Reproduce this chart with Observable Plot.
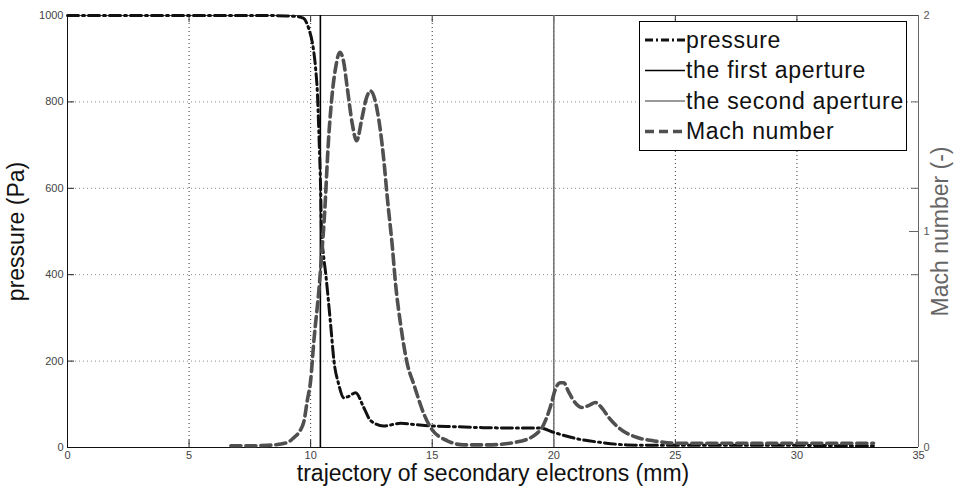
<!DOCTYPE html>
<html><head><meta charset="utf-8">
<script src="https://cdn.jsdelivr.net/npm/d3@7"></script>
<script src="https://cdn.jsdelivr.net/npm/@observablehq/plot@0.6"></script>
<style>
body{margin:0;background:#fff;}
#wrap{position:relative;width:959px;height:493px;font-family:"Liberation Sans",Arial,sans-serif;}
g[aria-label="axis-title"] text{letter-spacing:0.7px;}
#legend{position:absolute;left:639px;top:21px;}
#legend text{letter-spacing:0.7px;}
</style></head><body><div id="wrap"></div>
<script>
// ---- data ----
const pressureX = [0, 2, 4, 6, 8, 9, 9.4, 9.7, 9.92, 10.08, 10.2, 10.28, 10.34, 10.41, 10.45, 10.52, 10.62, 10.82, 10.96, 11.15, 11.36, 11.55, 11.85, 12.18, 12.47, 13.0, 13.7, 14.3, 14.93, 16, 17.1, 18.5, 19.45, 20.0, 20.97, 21.9, 23.0, 24, 26, 28, 30, 32, 33.2];
const pressureY = [1000, 1000, 1000, 1000, 1000, 999, 998, 994, 970, 934, 880, 818, 726, 600, 495, 450, 402, 286, 200, 147, 115, 118, 127, 93, 62, 50, 56, 53, 50, 48, 46, 45, 45, 35, 20, 12, 6, 5, 5, 5, 5, 4, 4];
const machX = [6.72, 7.5, 8.22, 9.04, 9.31, 9.55, 9.73, 9.86, 10.0, 10.13, 10.34, 10.48, 10.55, 10.75, 10.89, 11.03, 11.2, 11.35, 11.5, 11.71, 11.89, 12.12, 12.3, 12.47, 12.74, 13.01, 13.15, 13.36, 13.49, 13.7, 13.97, 14.25, 14.66, 14.93, 15.62, 16.3, 17.3, 18.36, 19.18, 19.59, 19.93, 20.0, 20.27, 20.41, 20.6, 20.82, 21.17, 21.45, 21.71, 22.0, 22.26, 22.74, 23.43, 24.1, 25, 27, 29, 31, 33.15];
const machY = [0.008, 0.008, 0.01, 0.023, 0.046, 0.075, 0.124, 0.216, 0.31, 0.49, 0.73, 0.93, 1.04, 1.45, 1.64, 1.76, 1.83, 1.79, 1.67, 1.50, 1.42, 1.53, 1.62, 1.65, 1.56, 1.33, 1.16, 0.93, 0.76, 0.57, 0.39, 0.29, 0.155, 0.093, 0.031, 0.012, 0.012, 0.023, 0.054, 0.108, 0.216, 0.247, 0.30, 0.30, 0.26, 0.216, 0.185, 0.195, 0.208, 0.18, 0.139, 0.085, 0.046, 0.031, 0.02, 0.02, 0.02, 0.02, 0.02];
const firstAperture = [10.4];
const secondAperture = [20];
const xTicks = [0, 5, 10, 15, 20, 25, 30, 35];
const yTicks = [0, 200, 400, 600, 800, 1000];
const machTicks = [0, 1, 2];
const xGrid = [5, 10, 15, 20, 25, 30];
const yGrid = [200, 400, 600, 800];
const legendLabels = ["pressure", "the first aperture", "the second aperture", "Mach number"];
const xLabel = "trajectory of secondary electrons (mm)";
const yLabel = "pressure (Pa)";
const y2Label = "Mach number (-)";

// ---- layout ----
const W = 959, H = 493, mL = 67, mR = 41, mT = 15, mB = 46;
const fW = W - mL - mR, fH = H - mT - mB, T = 7;
const machScale = 500; // Mach 2 <-> 1000 Pa
const FONT = "Liberation Sans, Arial, sans-serif";
const PDASH = "11,4,2,4", MDASH = "10,5";

const pressure = pressureX.map((x, i) => ({x, y: pressureY[i]}));
const mach = machX.map((x, i) => ({x, m: machY[i]}));

const chart = Plot.plot({
  width: W, height: H,
  marginLeft: mL, marginRight: mR, marginTop: mT, marginBottom: mB,
  x: {domain: [0, 35], axis: null},
  y: {domain: [0, 1000], axis: null},
  style: {fontFamily: FONT, background: "white"},
  marks: [
    Plot.ruleY(yGrid, {y: d => d, stroke: "#888", strokeDasharray: "1,3"}),
    Plot.ruleX(xGrid, {x: d => d, stroke: "#333", strokeDasharray: "1,3"}),
    // ticks (inward)
    Plot.tickY(yTicks, {y: d => d, insetRight: fW - T, stroke: "#222"}),
    Plot.tickY(yTicks, {y: d => d, insetLeft: fW - T, stroke: "#666"}),
    Plot.tickY(machTicks, {y: d => d * machScale, insetLeft: fW - 9, stroke: "#666"}),
    Plot.tickX(xTicks, {x: d => d, insetTop: fH - T, stroke: "#222"}),
    Plot.tickX(xTicks, {x: d => d, insetBottom: fH - T, stroke: "#333"}),
    // frame
    Plot.ruleY([1000], {stroke: "#444"}),
    Plot.ruleX([35], {stroke: "#666"}),
    Plot.ruleX([0], {stroke: "#111"}),
    Plot.ruleY([0], {stroke: "#111"}),
    // apertures
    Plot.ruleX(firstAperture, {x: d => d, stroke: "#000", strokeWidth: 1.6}),
    Plot.ruleX(secondAperture, {x: d => d, stroke: "#777", strokeWidth: 1.6}),
    // curves
    Plot.line(pressure, {x: "x", y: "y", curve: "monotone-x", stroke: "#111", strokeWidth: 3, strokeDasharray: PDASH}),
    Plot.line(mach, {x: "x", y: d => d.m * machScale, curve: "monotone-x", stroke: "#505050", strokeWidth: 3.6, strokeDasharray: MDASH}),
    // tick labels
    Plot.text(yTicks, {y: d => d, text: d => String(d), frameAnchor: "left", dx: -4, textAnchor: "end", lineAnchor: "middle", fontSize: 11, fill: "#444"}),
    Plot.text(xTicks, {x: d => d, text: d => String(d), frameAnchor: "bottom", dy: 8, textAnchor: "middle", lineAnchor: "middle", fontSize: 11, fill: "#444"}),
    Plot.text(machTicks, {y: d => d * machScale, text: d => String(d), frameAnchor: "right", dx: 5, textAnchor: "start", lineAnchor: "middle", fontSize: 11, fill: "#555"}),
    // axis titles
    Plot.text([xLabel], {text: d => d, frameAnchor: "bottom", dy: 26, textAnchor: "middle", lineAnchor: "middle", fontSize: 23, fill: "#111", ariaLabel: "axis-title"}),
    Plot.text([yLabel], {text: d => d, frameAnchor: "left", dx: -51, rotate: -90, textAnchor: "middle", lineAnchor: "middle", fontSize: 23, fill: "#111", ariaLabel: "axis-title"}),
    Plot.text([y2Label], {text: d => d, frameAnchor: "right", dx: 22, rotate: -90, textAnchor: "middle", lineAnchor: "middle", fontSize: 23, fill: "#666", ariaLabel: "axis-title"})
  ]
});
document.getElementById("wrap").appendChild(chart);

// ---- legend ----
const lg = d3.select("#wrap").append("svg").attr("id", "legend").attr("width", 269).attr("height", 131);
lg.append("rect").attr("x", 0.5).attr("y", 0.5).attr("width", 267).attr("height", 129).attr("fill", "#fff").attr("stroke", "#000");
const styles = [
  {stroke: "#111", w: 3, dash: "8,3,2,3"},
  {stroke: "#000", w: 1.6, dash: null},
  {stroke: "#777", w: 1.6, dash: null},
  {stroke: "#505050", w: 3.6, dash: "9,5"}
];
const rowY = [19, 49.5, 80, 110.5];
legendLabels.forEach((t, i) => {
  const s = styles[i];
  const ln = lg.append("line").attr("x1", 6).attr("x2", 46).attr("y1", rowY[i]).attr("y2", rowY[i])
    .attr("stroke", s.stroke).attr("stroke-width", s.w);
  if (s.dash) ln.attr("stroke-dasharray", s.dash);
  lg.append("text").attr("x", 47).attr("y", rowY[i] + 7.5).attr("font-size", 23)
    .attr("font-family", FONT).attr("fill", "#111").text(t);
});
</script></body></html>
